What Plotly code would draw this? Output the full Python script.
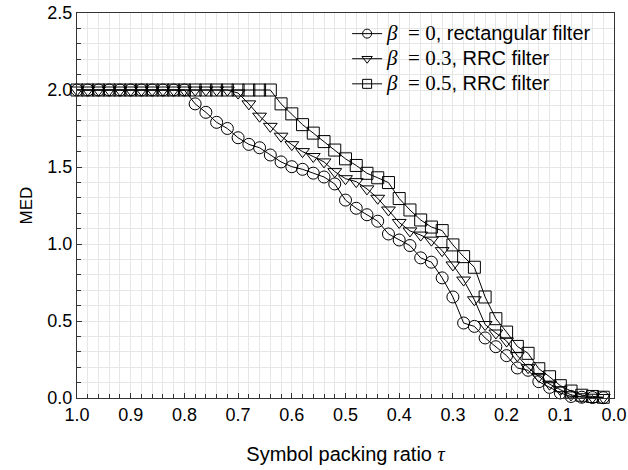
import plotly.graph_objects as go

tau = [1.00, 0.98, 0.96, 0.94, 0.92, 0.90, 0.88, 0.86, 0.84, 0.82,
       0.80, 0.78, 0.76, 0.74, 0.72, 0.70, 0.68, 0.66, 0.64, 0.62,
       0.60, 0.58, 0.56, 0.54, 0.52, 0.50, 0.48, 0.46, 0.44, 0.42,
       0.40, 0.38, 0.36, 0.34, 0.32, 0.30, 0.28, 0.26, 0.24, 0.22,
       0.20, 0.18, 0.16, 0.14, 0.12, 0.10, 0.08, 0.06, 0.04, 0.02]

med_rect = [2.0, 2.0, 2.0, 2.0, 2.0, 2.0, 2.0, 2.0, 2.0, 2.0,
            2.0, 1.91, 1.855, 1.79, 1.75, 1.69, 1.647, 1.625, 1.578, 1.533,
            1.502, 1.485, 1.46, 1.435, 1.39, 1.285, 1.232, 1.19, 1.148, 1.065,
            1.026, 0.99, 0.91, 0.882, 0.78, 0.656, 0.487, 0.465, 0.39, 0.333,
            0.275, 0.195, 0.18, 0.106, 0.069, 0.033, 0.01, 0.005, 0.003, 0.002]

med_rrc03 = [2.0, 2.0, 2.0, 2.0, 2.0, 2.0, 2.0, 2.0, 2.0, 2.0,
             2.0, 2.0, 2.0, 2.0, 2.0, 1.98, 1.91, 1.83, 1.764, 1.70,
             1.645, 1.60, 1.568, 1.533, 1.47, 1.424, 1.405, 1.358, 1.297, 1.221,
             1.14, 1.085, 1.058, 1.025, 0.957, 0.864, 0.766, 0.638, 0.477, 0.422,
             0.37, 0.275, 0.197, 0.14, 0.09, 0.054, 0.02, 0.008, 0.005, 0.003]

med_rrc05 = [2.0, 2.0, 2.0, 2.0, 2.0, 2.0, 2.0, 2.0, 2.0, 2.0,
             2.0, 2.0, 2.0, 2.0, 2.0, 2.0, 2.0, 2.0, 2.0, 1.91,
             1.845, 1.775, 1.72, 1.665, 1.61, 1.553, 1.51, 1.459, 1.43, 1.399,
             1.295, 1.221, 1.156, 1.11, 1.087, 0.994, 0.918, 0.849, 0.656, 0.515,
             0.428, 0.335, 0.29, 0.19, 0.138, 0.08, 0.045, 0.018, 0.01, 0.005]

x_ticks = [1.0, 0.9, 0.8, 0.7, 0.6, 0.5, 0.4, 0.3, 0.2, 0.1, 0.0]
y_ticks = [0.0, 0.5, 1.0, 1.5, 2.0, 2.5]

SERIF = "Liberation Serif, Times New Roman, serif"
SANS = "Liberation Sans, Arial, Helvetica, sans-serif"


def lab(beta, rest):
    return (f'<span style="font-family:{SERIF};font-size:21px"><i>β</i>&nbsp;&nbsp;=&nbsp;{beta}</span>'
            f'<span style="font-family:{SANS};font-size:20px">, {rest}</span>')


# (symbol, values, legend label); drawn bottom-to-top
series = [
    ("square", med_rrc05, lab("0.5", "RRC filter")),
    ("triangle-down", med_rrc03, lab("0.3", "RRC filter")),
    ("circle", med_rect, lab("0", "rectangular filter")),
]

fig = go.Figure()
for sym, vals, name in series:
    fig.add_trace(go.Scatter(
        x=tau, y=vals, name=name, mode="lines+markers", showlegend=False,
        line=dict(color="black", width=1),
        marker=dict(symbol=sym + "-open", size=12, color="black", line=dict(width=1)),
        cliponaxis=False,
    ))
# legend entries (smaller marker glyphs, as in the reference legend)
for sym, vals, name in series:
    fig.add_trace(go.Scatter(
        x=[None], y=[None], name=name, mode="lines+markers",
        line=dict(color="black", width=1),
        marker=dict(symbol=sym + "-open", size=9, color="black", line=dict(width=1)),
    ))

grid = "#e6e6e6"
axcol = "#333333"
fig.update_layout(
    width=628, height=470,
    margin=dict(l=77, r=14, t=13, b=72),
    paper_bgcolor="white", plot_bgcolor="white",
    font=dict(family=SANS, size=18, color="black"),
    showlegend=True,
    legend=dict(
        x=0.503, y=0.992, xanchor="left", yanchor="top",
        bgcolor="rgba(0,0,0,0)", borderwidth=0,
        traceorder="reversed", font=dict(size=17),
    ),
    xaxis=dict(
        range=[1.0, 0.0], tickvals=x_ticks,
        tickformat=".1f", showgrid=True, gridcolor=grid, gridwidth=1,
        ticks="inside", ticklen=5, tickcolor=axcol,
        showline=True, linecolor=axcol, linewidth=1.3, mirror=True,
        zeroline=False, automargin=False,
        minor=dict(dtick=0.02, showgrid=True, gridcolor=grid, ticks="inside", ticklen=4, tickcolor=axcol),
        title=dict(text=f'Symbol packing ratio <span style="font-family:{SERIF}"><i>τ</i></span>',
                   font=dict(size=20), standoff=23),
        tickfont=dict(size=18),
    ),
    yaxis=dict(
        range=[0, 2.5], tickvals=y_ticks,
        tickformat=".1f", showgrid=True, gridcolor=grid, gridwidth=1,
        ticks="inside", ticklen=5, tickcolor=axcol,
        showline=True, linecolor=axcol, linewidth=1.3, mirror=True,
        zeroline=False, automargin=False,
        minor=dict(dtick=0.1, showgrid=True, gridcolor=grid, ticks="inside", ticklen=4, tickcolor=axcol),
        title=dict(text="MED", font=dict(size=17), standoff=10),
        tickfont=dict(size=18),
    ),
)

fig.write_html("out.html")
